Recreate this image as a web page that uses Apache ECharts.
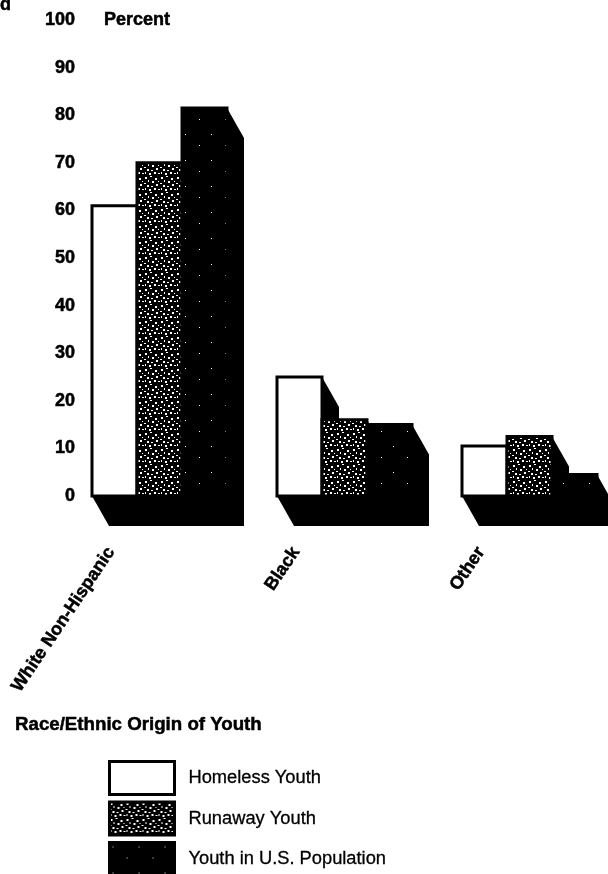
<!DOCTYPE html>
<html>
<head>
<meta charset="utf-8">
<style>html,body{margin:0;padding:0;background:#fff;}#chart{width:608px;height:874px;}</style>
<script src="https://cdn.jsdelivr.net/npm/echarts@6/dist/echarts.min.js"></script>
</head>
<body>
<div id="chart"></div>
<script>
var categories = ['White Non-Hispanic', 'Black', 'Other'];
var seriesNames = ['Homeless Youth', 'Runaway Youth', 'Youth in U.S. Population'];
var homeless = [61, 25, 10.5];
var runaway = [70, 16, 12.5];
var population = [81.5, 15, 4.5];

var FONT = '"Liberation Sans", Arial, sans-serif';
var BAR_W = 45, DEPTH_X = 17, DEPTH_Y = 30, GROUP_SHIFT = -19;

// halftone fills, the scan is pure black and white
function makeTile(size, dots) {
    var c = document.createElement('canvas');
    c.width = c.height = size;
    var ctx = c.getContext('2d');
    ctx.fillStyle = '#000';
    ctx.fillRect(0, 0, size, size);
    ctx.fillStyle = '#fff';
    dots.forEach(function (d) { ctx.fillRect(d[0], d[1], d[2], d[3]); });
    return { image: c, repeat: 'repeat' };
}
var fillWhite = '#fff';
var fillRunaway = makeTile(16, [
    [1, 1, 2, 2], [6, 0, 2, 1], [11, 2, 2, 2],
    [4, 4, 1, 2], [8, 5, 2, 2], [14, 5, 1, 1],
    [0, 7, 2, 1], [3, 9, 2, 2], [12, 8, 2, 2],
    [7, 10, 2, 1], [1, 12, 1, 2], [10, 12, 2, 2],
    [5, 13, 2, 2], [14, 13, 2, 1]
]);
var fillPopulation = makeTile(26, [[3, 4, 1, 1], [17, 15, 1, 1]]);

function renderBar(params, api) {
    var i = params.seriesIndex;
    var p = api.coord([api.value(0), api.value(1)]);
    var base = api.coord([api.value(0), 0])[1];
    var x0 = p[0] + GROUP_SHIFT + i * BAR_W;
    var x1 = x0 + BAR_W;
    var top = p[1];
    return {
        type: 'group',
        children: [
            {
                type: 'polygon',
                shape: { points: [[x0, top], [x1, top], [x1 + DEPTH_X, top + DEPTH_Y], [x1 + DEPTH_X, base + DEPTH_Y], [x0 + DEPTH_X, base + DEPTH_Y], [x0, base]] },
                style: { fill: '#000' }
            },
            {
                type: 'rect',
                shape: { x: x0, y: top, width: BAR_W, height: base - top },
                style: { fill: api.visual('color'), stroke: '#000', lineWidth: 3 }
            }
        ]
    };
}

function makeSeries(idx, values, fill) {
    return {
        name: seriesNames[idx],
        type: 'custom',
        renderItem: renderBar,
        itemStyle: { color: fill },
        encode: { x: 0, y: 1 },
        data: categories.map(function (c, k) { return [c, values[k]]; })
    };
}

var boldText = { fontFamily: FONT, fontSize: 18, fontWeight: 'bold', color: '#000', textBorderColor: '#000', textBorderWidth: 0.5 };

var chart = echarts.init(document.getElementById('chart'), null, { renderer: 'canvas' });
chart.setOption({
    animation: false,
    backgroundColor: '#fff',
    grid: { left: 18.5, top: 20, width: 555, height: 476, containLabel: false },
    title: [
        { text: 'Percent', left: 104, top: 11, padding: 0, textStyle: boldText },
        { text: 'Race/Ethnic Origin of Youth', left: 15, top: 715, padding: 0, textStyle: Object.assign({}, boldText, { fontSize: 18.7 }) },
        { text: 'd', left: 0, top: -4, padding: 0, textStyle: boldText }
    ],
    legend: {
        orient: 'vertical',
        left: 108,
        top: 760,
        height: 130,
        padding: 0,
        icon: 'rect',
        itemWidth: 65,
        itemHeight: 33,
        itemGap: 4.5,
        selectedMode: false,
        itemStyle: { borderColor: '#000', borderWidth: 3 },
        textStyle: { fontFamily: FONT, fontSize: 18.3, color: '#000', textBorderColor: '#000', textBorderWidth: 0.3, padding: [5, 0, 0, 9] },
        data: seriesNames
    },
    xAxis: {
        type: 'category',
        data: categories,
        axisLine: { show: false },
        axisTick: { show: false },
        axisLabel: Object.assign({ interval: 0, rotate: 56, margin: 53 }, boldText)
    },
    yAxis: {
        type: 'value',
        min: 0,
        max: 100,
        interval: 10,
        offset: -56.5,
        splitLine: { show: false },
        axisLine: { show: false },
        axisTick: { show: false },
        axisLabel: Object.assign({ margin: 0, padding: [3, 0, 0, 0] }, boldText)
    },
    series: [
        makeSeries(0, homeless, fillWhite),
        makeSeries(1, runaway, fillRunaway),
        makeSeries(2, population, fillPopulation)
    ]
});
</script>
</body>
</html>
